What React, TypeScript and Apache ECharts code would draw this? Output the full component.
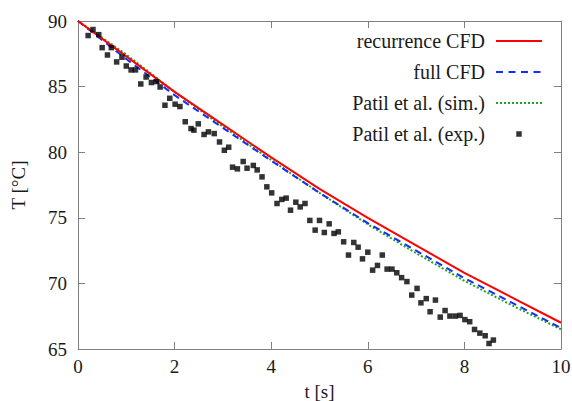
import React, { useEffect, useRef } from "react";
import * as echarts from "echarts";

const xTicks = [0, 2, 4, 6, 8, 10];
const yTicks = [65, 70, 75, 80, 85, 90];

const seriesNames = [
  "recurrence CFD",
  "full CFD",
  "Patil et al. (sim.)",
  "Patil et al. (exp.)",
];

const lineTime = [0, 1, 2, 3, 4, 5, 6, 7, 8, 9, 10];
const recurrenceCFD = [90, 87.3, 84.6, 82.1, 79.6, 77.2, 75.0, 72.9, 70.8, 68.9, 67.0];
const fullCFD = [90, 87.1, 84.35, 81.85, 79.35, 76.9, 74.6, 72.5, 70.4, 68.5, 66.6];
const patilSim = [90, 87.45, 84.6, 81.95, 79.4, 76.9, 74.5, 72.3, 70.2, 68.3, 66.5];

const expTime = [
  0.21, 0.31, 0.43, 0.5, 0.61, 0.69, 0.8, 0.91, 1.0, 1.1,
  1.19, 1.3, 1.41, 1.52, 1.62, 1.7, 1.8, 1.9, 2.01, 2.11,
  2.22, 2.34, 2.4, 2.49, 2.61, 2.7, 2.82, 2.93, 3.03, 3.12,
  3.2, 3.3, 3.42, 3.5, 3.63, 3.71, 3.81, 3.91, 4.01, 4.12,
  4.22, 4.31, 4.4, 4.51, 4.6, 4.7, 4.8, 4.91, 5.0, 5.1,
  5.2, 5.3, 5.39, 5.5, 5.6, 5.71, 5.8, 5.89, 6.0, 6.1,
  6.2, 6.3, 6.4, 6.5, 6.6, 6.7, 6.81, 6.91, 7.02, 7.1,
  7.21, 7.29, 7.4, 7.5, 7.6, 7.7, 7.81, 7.91, 8.01, 8.11,
  8.21, 8.32, 8.43, 8.51, 8.6,
];
const expTemp = [
  88.89, 89.35, 88.96, 87.97, 87.41, 87.97, 86.88, 87.24, 86.57, 86.27,
  86.27, 85.2, 85.73, 85.31, 85.38, 84.97, 83.58, 84.11, 83.66, 83.48,
  82.32, 81.8, 81.68, 82.16, 81.35, 81.55, 81.42, 80.78, 80.15, 80.38,
  78.86, 78.73, 79.29, 78.78, 78.99, 78.65, 78.12, 77.36, 76.9, 76.09,
  76.4, 76.5, 75.58, 76.19, 75.83, 76.09, 74.8, 74.06, 74.8, 73.88,
  74.54, 73.81, 73.93, 73.17, 72.16, 73.12, 72.76, 71.87, 72.38, 71.01,
  71.37, 72.16, 71.09, 71.09, 70.81, 70.44, 70.14, 69.11, 69.62, 68.52,
  68.84, 67.84, 68.73, 67.43, 67.93, 67.51, 67.51, 67.56, 67.24, 67.08,
  66.49, 66.21, 66.01, 65.42, 65.68,
];

const FONT = "'Liberation Serif', 'DejaVu Serif', serif";
const TEXT = "#1a1a1a";
const FRAME = "#808080";
const RED = "#ff0000";
const BLUE = "#1030ff";
const GREEN = "#22a022";

const ICON_W = 46;
const ICON_H = 14;

// legend sample glyphs: a line drawn as a row of small rectangles
function dashIcon(dash: number, period: number, thick: number): string {
  const y = ICON_H / 2 - thick / 2;
  let d = `M0,0M${ICON_W},${ICON_H}`;
  for (let x = 0; x + dash <= ICON_W + 0.01; x += period) {
    d += `M${x},${y}h${dash}v${thick}h${-dash}z`;
  }
  return "path://" + d;
}
function squareIcon(size: number): string {
  const x = ICON_W / 2 - size / 2;
  const y = ICON_H / 2 - size / 2;
  return `path://M0,0M${ICON_W},${ICON_H}M${x},${y}h${size}v${size}h${-size}z`;
}

function makeX(position: "bottom" | "top", withLabels: boolean) {
  return {
    type: "value",
    position,
    min: xTicks[0],
    max: xTicks[xTicks.length - 1],
    interval: xTicks[1] - xTicks[0],
    axisLine: { show: true, onZero: false, lineStyle: { color: FRAME, width: 1 } },
    axisTick: { show: true, inside: true, length: 7, lineStyle: { color: FRAME, width: 1 } },
    axisLabel: { show: withLabels, color: TEXT, fontFamily: FONT, fontSize: 19, margin: 8 },
    splitLine: { show: false },
    ...(withLabels
      ? {
          name: "t [s]",
          nameLocation: "middle",
          nameGap: 33,
          nameTextStyle: { color: TEXT, fontFamily: FONT, fontSize: 19 },
        }
      : {}),
  };
}

function makeY(position: "left" | "right", withLabels: boolean) {
  return {
    type: "value",
    position,
    min: yTicks[0],
    max: yTicks[yTicks.length - 1],
    interval: yTicks[1] - yTicks[0],
    axisLine: { show: true, onZero: false, lineStyle: { color: FRAME, width: 1 } },
    axisTick: { show: true, inside: true, length: 7, lineStyle: { color: FRAME, width: 1 } },
    axisLabel: { show: withLabels, color: TEXT, fontFamily: FONT, fontSize: 19, margin: 11 },
    splitLine: { show: false },
    ...(withLabels
      ? {
          name: "T [°C]",
          nameLocation: "middle",
          nameRotate: 90,
          nameGap: 50,
          nameTextStyle: { color: TEXT, fontFamily: FONT, fontSize: 19 },
        }
      : {}),
  };
}

export default function App() {
  const ref = useRef<HTMLDivElement>(null);
  useEffect(() => {
    const chart = echarts.init(ref.current!, null, { renderer: "svg" });
    const pairs = (ys: number[]) => lineTime.map((t, i) => [t, ys[i]]);
    chart.setOption({
      animation: false,
      backgroundColor: "#ffffff",
      grid: { left: 78, right: 11, top: 21, bottom: 52, outerBoundsMode: "none" },
      xAxis: [makeX("bottom", true), makeX("top", false)],
      yAxis: [makeY("left", true), makeY("right", false)],
      legend: {
        orient: "vertical",
        align: "right",
        right: 25,
        top: 26,
        padding: 5,
        itemWidth: ICON_W,
        itemHeight: ICON_H,
        itemGap: 11,
        backgroundColor: "transparent",
        textStyle: { color: TEXT, fontFamily: FONT, fontSize: 20, padding: [0, 6, 0, 0] },
        data: [
          { name: seriesNames[0], icon: dashIcon(ICON_W, ICON_W, 2), itemStyle: { color: RED, borderWidth: 0 } },
          { name: seriesNames[1], icon: dashIcon(7, 12.5, 2), itemStyle: { color: BLUE, borderWidth: 0 } },
          { name: seriesNames[2], icon: dashIcon(2, 4, 2), itemStyle: { color: GREEN, borderWidth: 0 } },
          { name: seriesNames[3], icon: squareIcon(5.5), itemStyle: { color: "#000000", borderWidth: 0 } },
        ],
      },
      series: [
        {
          name: seriesNames[2],
          type: "line",
          data: pairs(patilSim),
          symbol: "none",
          z: 2,
          itemStyle: { color: GREEN },
          lineStyle: { color: GREEN, width: 2, type: [2, 2] },
        },
        {
          name: seriesNames[1],
          type: "line",
          data: pairs(fullCFD),
          symbol: "none",
          z: 3,
          itemStyle: { color: BLUE },
          lineStyle: { color: BLUE, width: 2, type: [7, 5] },
        },
        {
          name: seriesNames[0],
          type: "line",
          data: pairs(recurrenceCFD),
          symbol: "none",
          z: 4,
          itemStyle: { color: RED },
          lineStyle: { color: RED, width: 2 },
        },
        {
          name: seriesNames[3],
          type: "scatter",
          data: expTime.map((t, i) => [t, expTemp[i]]),
          symbol: "rect",
          symbolSize: 5.5,
          z: 5,
          itemStyle: { color: "#000000" },
        },
      ],
    });
    return () => chart.dispose();
  }, []);
  return (
    <div
      ref={ref}
      style={{ position: "absolute", left: 0, top: 0, width: 572, height: 401 }}
    />
  );
}
